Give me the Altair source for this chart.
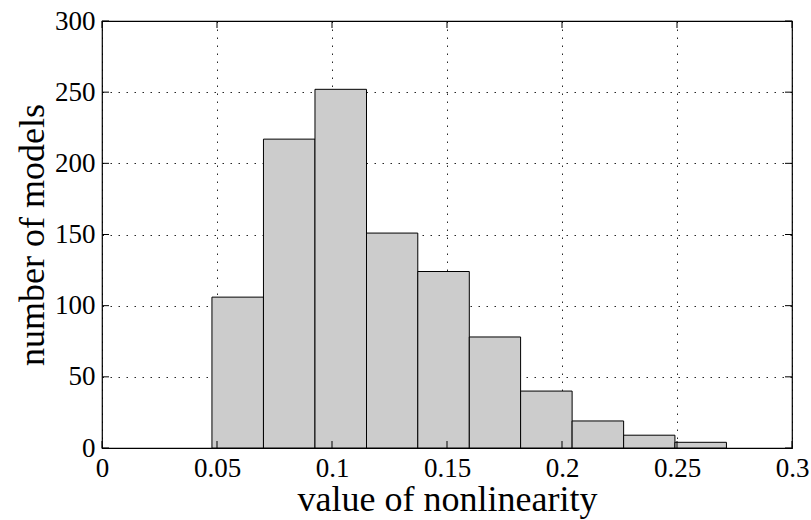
import altair as alt
import pandas as pd

# Histogram of nonlinearity values: 10 equal-width bins between min and max
bin_edges = [0.0478, 0.0702, 0.0926, 0.1150, 0.1373, 0.1597,
             0.1820, 0.2044, 0.2268, 0.2491, 0.2715]
counts = [106, 217, 252, 151, 124, 78, 40, 19, 9, 4]

x_ticks = [0, 0.05, 0.1, 0.15, 0.2, 0.25, 0.3]
y_ticks = [0, 50, 100, 150, 200, 250, 300]

bars = pd.DataFrame({
    "start": bin_edges[:-1],
    "end": bin_edges[1:],
    "count": counts,
})
xt = pd.DataFrame({"v": x_ticks})
yt = pd.DataFrame({"v": y_ticks})

W, H = 690, 427
TICK = 7
FONT = "Times New Roman, Liberation Serif, Times, serif"

x_scale = alt.Scale(domain=[0, 0.3], nice=False, zero=False)
y_scale = alt.Scale(domain=[0, 300], nice=False)

grid_style = dict(grid=True, gridColor="#000000", gridDash=[1.5, 6.5],
                  gridOpacity=0.85, gridWidth=1, domain=False, ticks=False)

hist = alt.Chart(bars).mark_rect(
    fill="#cccccc", stroke="#000000", strokeWidth=1
).encode(
    x=alt.X("start:Q", scale=x_scale,
            axis=alt.Axis(values=x_ticks, format="~g", title="value of nonlinearity",
                          labelPadding=7, titlePadding=1, **grid_style)),
    x2="end:Q",
    y=alt.Y("count:Q", scale=y_scale,
            axis=alt.Axis(values=y_ticks, title="number of models",
                          labelPadding=7, titlePadding=3, **grid_style)),
    y2=alt.datum(0),
)

# inward tick marks on all four sides of the box
y_tick_left = alt.Chart(yt).mark_rule(color="black", strokeWidth=1).encode(
    y=alt.Y("v:Q", scale=y_scale), x=alt.value(0), x2=alt.value(TICK))
y_tick_right = alt.Chart(yt).mark_rule(color="black", strokeWidth=1).encode(
    y=alt.Y("v:Q", scale=y_scale), x=alt.value(W - TICK), x2=alt.value(W))
x_tick_bottom = alt.Chart(xt).mark_rule(color="black", strokeWidth=1).encode(
    x=alt.X("v:Q", scale=x_scale), y=alt.value(H), y2=alt.value(H - TICK))
x_tick_top = alt.Chart(xt).mark_rule(color="black", strokeWidth=1).encode(
    x=alt.X("v:Q", scale=x_scale), y=alt.value(0), y2=alt.value(TICK))

chart = alt.layer(
    hist, y_tick_left, y_tick_right, x_tick_bottom, x_tick_top
).properties(
    width=W, height=H,
    padding={"left": 102, "top": 21, "right": 19, "bottom": 72},
    autosize=alt.AutoSizeParams(type="none"),
    background="white",
).configure_view(
    stroke="#000000", strokeWidth=1.2, fill="white"
).configure_axis(
    labelFont=FONT, labelFontSize=27, labelColor="black",
    titleFont=FONT, titleFontSize=36, titleFontWeight="normal", titleColor="black",
    labelFlush=False, labelOverlap=False,
)

chart.save("out.html", embed_options={"renderer": "svg", "actions": False})
